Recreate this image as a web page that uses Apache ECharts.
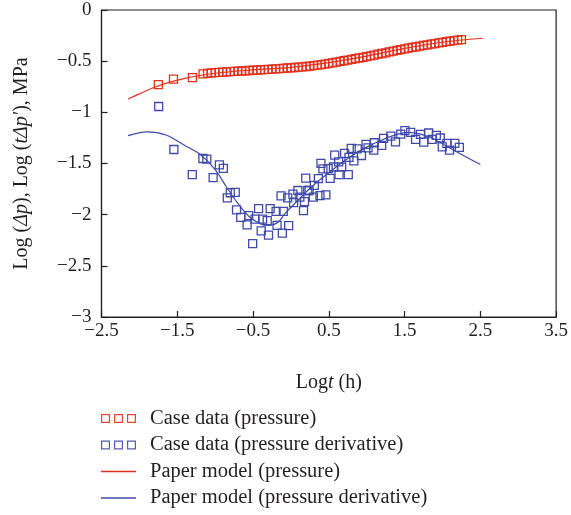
<!DOCTYPE html>
<html>
<head>
<meta charset="utf-8">
<script src="https://cdn.jsdelivr.net/npm/echarts@6/dist/echarts.min.js"></script>
<style>html,body{margin:0;padding:0;background:#fff;}#c{width:571px;height:515px;}</style>
</head>
<body>
<div id="c"></div>
<script>
// Case data (pressure)
const pressureX = [-1.75,-1.55,-1.30,-1.16,-1.10,-1.05,-1.00,-0.95,-0.90,-0.85,-0.80,-0.75,-0.70,-0.65,-0.60,-0.55,-0.50,-0.45,-0.40,-0.35,-0.30,-0.25,-0.20,-0.15,-0.10,-0.05,0.00,0.05,0.10,0.15,0.20,0.25,0.30,0.35,0.40,0.45,0.50,0.55,0.60,0.65,0.70,0.75,0.80,0.85,0.90,0.95,1.00,1.05,1.10,1.15,1.20,1.25,1.30,1.35,1.40,1.45,1.50,1.55,1.60,1.65,1.70,1.75,1.80,1.85,1.90,1.95,2.00,2.05,2.10,2.15,2.20,2.25];
const pressureY = [-0.73,-0.675,-0.66,-0.625,-0.62,-0.615,-0.612,-0.61,-0.607,-0.605,-0.603,-0.60,-0.598,-0.596,-0.594,-0.591,-0.589,-0.587,-0.584,-0.582,-0.58,-0.578,-0.575,-0.572,-0.57,-0.567,-0.565,-0.562,-0.559,-0.555,-0.552,-0.548,-0.544,-0.539,-0.534,-0.528,-0.522,-0.516,-0.51,-0.503,-0.496,-0.49,-0.483,-0.476,-0.469,-0.462,-0.455,-0.448,-0.44,-0.432,-0.425,-0.418,-0.41,-0.402,-0.395,-0.388,-0.38,-0.373,-0.366,-0.36,-0.353,-0.346,-0.34,-0.334,-0.328,-0.322,-0.316,-0.31,-0.305,-0.30,-0.295,-0.29];
// Case data (pressure derivative)
const derivX = [-1.745,-1.545,-1.302,-1.162,-1.11,-1.027,-0.944,-0.892,-0.84,-0.80,-0.735,-0.718,-0.662,-0.578,-0.557,-0.505,-0.474,-0.427,-0.392,-0.374,-0.313,-0.296,-0.274,-0.196,-0.183,-0.113,-0.10,-0.13,-0.03,-0.043,0.026,0.035,0.092,0.118,0.166,0.179,0.196,0.222,0.24,0.296,0.309,0.362,0.383,0.396,0.422,0.461,0.492,0.518,0.561,0.578,0.63,0.635,0.67,0.709,0.757,0.766,0.796,0.831,0.875,0.931,0.992,1.018,1.093,1.10,1.197,1.223,1.318,1.38,1.449,1.505,1.58,1.645,1.71,1.753,1.818,1.863,1.919,1.971,1.997,2.058,2.093,2.163,2.223];
const derivY = [-0.943,-1.363,-1.609,-1.451,-1.458,-1.639,-1.514,-1.547,-1.836,-1.786,-1.783,-1.954,-2.026,-2.099,-2.01,-2.283,-2.043,-1.941,-2.158,-2.043,-2.059,-2.20,-1.941,-1.967,-2.105,-2.181,-1.967,-1.816,-2.108,-1.836,-1.80,-1.882,-1.764,-1.829,-1.961,-1.872,-1.642,-1.764,-1.764,-1.829,-1.714,-1.648,-1.813,-1.498,-1.553,-1.806,-1.55,-1.645,-1.534,-1.419,-1.485,-1.609,-1.534,-1.402,-1.609,-1.441,-1.353,-1.475,-1.357,-1.422,-1.313,-1.347,-1.369,-1.297,-1.323,-1.254,-1.232,-1.288,-1.212,-1.179,-1.195,-1.264,-1.215,-1.291,-1.202,-1.264,-1.225,-1.251,-1.337,-1.303,-1.369,-1.303,-1.343];
// Paper model (pressure)
const modelPX = [-2.15,-2.0,-1.8,-1.6,-1.4,-1.2,-1.0,-0.8,-0.5,0.0,0.5,1.0,1.5,2.0,2.53];
const modelPY = [-0.87,-0.82,-0.755,-0.705,-0.668,-0.64,-0.618,-0.603,-0.585,-0.56,-0.515,-0.45,-0.375,-0.315,-0.276];
// Paper model (pressure derivative)
const modelDX = [-2.15,-1.9,-1.65,-1.4,-1.2,-1.0,-0.85,-0.7,-0.55,-0.4,-0.3,-0.17,-0.08,0.09,0.27,0.5,0.75,1.0,1.2,1.4,1.55,1.7,1.9,2.15,2.5];
const modelDY = [-1.228,-1.19,-1.222,-1.325,-1.41,-1.56,-1.73,-1.89,-2.02,-2.09,-2.105,-2.075,-1.99,-1.862,-1.73,-1.59,-1.45,-1.34,-1.27,-1.215,-1.195,-1.21,-1.265,-1.37,-1.51];

const seriesNames = ['Case data (pressure)','Case data (pressure derivative)','Paper model (pressure)','Paper model (pressure derivative)'];

const RED = '#e2321f';
const BLUE = '#3f4aa8';
const INK = '#231f20';
const FONT = 'Liberation Serif';

function zip(xs, ys){ return xs.map((x,i)=>[x, ys[i]]); }
function fmt(v){ return String(v).replace('-', '\u2212'); }

// three hollow squares legend icon (outer CW, inner CCW -> hole)
function ringsPath(){
  let s = '';
  const side = 9, gap = 4, t = 1.2;
  for (let i = 0; i < 3; i++) {
    const x0 = i * (side + gap);
    s += `M${x0},0 L${x0+side},0 L${x0+side},${side} L${x0},${side} Z `;
    s += `M${x0+t},${t} L${x0+t},${side-t} L${x0+side-t},${side-t} L${x0+side-t},${t} Z `;
  }
  return 'path://' + s.trim();
}
const LINE_ICON = 'path://M0,0 L35,0 L35,1.3 L0,1.3 Z';

const chart = echarts.init(document.getElementById('c'), null, {renderer: 'canvas'});
const rich = {i: {fontStyle: 'italic', fontFamily: FONT, fontSize: 20, color: INK}};

chart.setOption({
  animation: false,
  grid: {left: 101.5, right: 10, top: 10, bottom: 198, show: true, borderColor: INK, borderWidth: 1.2, backgroundColor: 'transparent'},
  xAxis: {
    type: 'value', min: -2.5, max: 3.5, interval: 1,
    name: 'Log{i|t} (h)', nameLocation: 'middle', nameGap: 56,
    nameTextStyle: {fontFamily: FONT, fontSize: 20, color: INK, rich: rich},
    axisLine: {show: true, onZero: false, lineStyle: {color: INK, width: 1.2}},
    axisTick: {show: true, inside: true, length: 6, lineStyle: {color: INK, width: 1.2}},
    axisLabel: {fontFamily: FONT, fontSize: 19, color: INK, margin: 5, formatter: fmt},
    splitLine: {show: false}
  },
  yAxis: {
    type: 'value', min: -3, max: 0, interval: 0.5,
    name: 'Log ({i|Δp}), Log ({i|tΔp′}), MPa', nameLocation: 'middle', nameGap: 70,
    nameTextStyle: {fontFamily: FONT, fontSize: 20, color: INK, rich: rich},
    axisLine: {show: true, onZero: false, lineStyle: {color: INK, width: 1.2}},
    axisTick: {show: true, inside: true, length: 6, lineStyle: {color: INK, width: 1.2}},
    axisLabel: {fontFamily: FONT, fontSize: 19, color: INK, margin: 10, formatter: fmt},
    splitLine: {show: false}
  },
  legend: {
    orient: 'vertical', left: 101, top: 408, width: 460, height: 107, padding: 0,
    itemWidth: 35, itemHeight: 9, itemGap: 5.5, symbolKeepAspect: true,
    textStyle: {fontFamily: FONT, fontSize: 20.5, color: INK, lineHeight: 20, padding: [0,0,0,9]},
    data: [
      {name: seriesNames[0], icon: ringsPath(), itemStyle: {color: RED, borderWidth: 0, opacity: 0.9}},
      {name: seriesNames[1], icon: ringsPath(), itemStyle: {color: BLUE, borderWidth: 0, opacity: 0.9}},
      {name: seriesNames[2], icon: LINE_ICON, itemStyle: {color: RED, borderWidth: 0}},
      {name: seriesNames[3], icon: LINE_ICON, itemStyle: {color: BLUE, borderWidth: 0}}
    ]
  },
  series: [
    {name: seriesNames[2], type: 'line', data: zip(modelPX, modelPY), smooth: 0.35, symbol: 'none', showSymbol: false, z: 2,
     lineStyle: {color: RED, width: 1.2}, itemStyle: {color: RED}},
    {name: seriesNames[3], type: 'line', data: zip(modelDX, modelDY), smooth: 0.35, symbol: 'none', showSymbol: false, z: 2,
     lineStyle: {color: BLUE, width: 1.2}, itemStyle: {color: BLUE}},
    {name: seriesNames[0], type: 'scatter', data: zip(pressureX, pressureY), symbol: 'rect', symbolSize: 8, z: 3,
     itemStyle: {color: 'transparent', borderColor: RED, borderWidth: 1.3, opacity: 1}},
    {name: seriesNames[1], type: 'scatter', data: zip(derivX, derivY), symbol: 'rect', symbolSize: 8, z: 3,
     itemStyle: {color: 'transparent', borderColor: BLUE, borderWidth: 1.3, opacity: 1}}
  ]
});
</script>
</body>
</html>
